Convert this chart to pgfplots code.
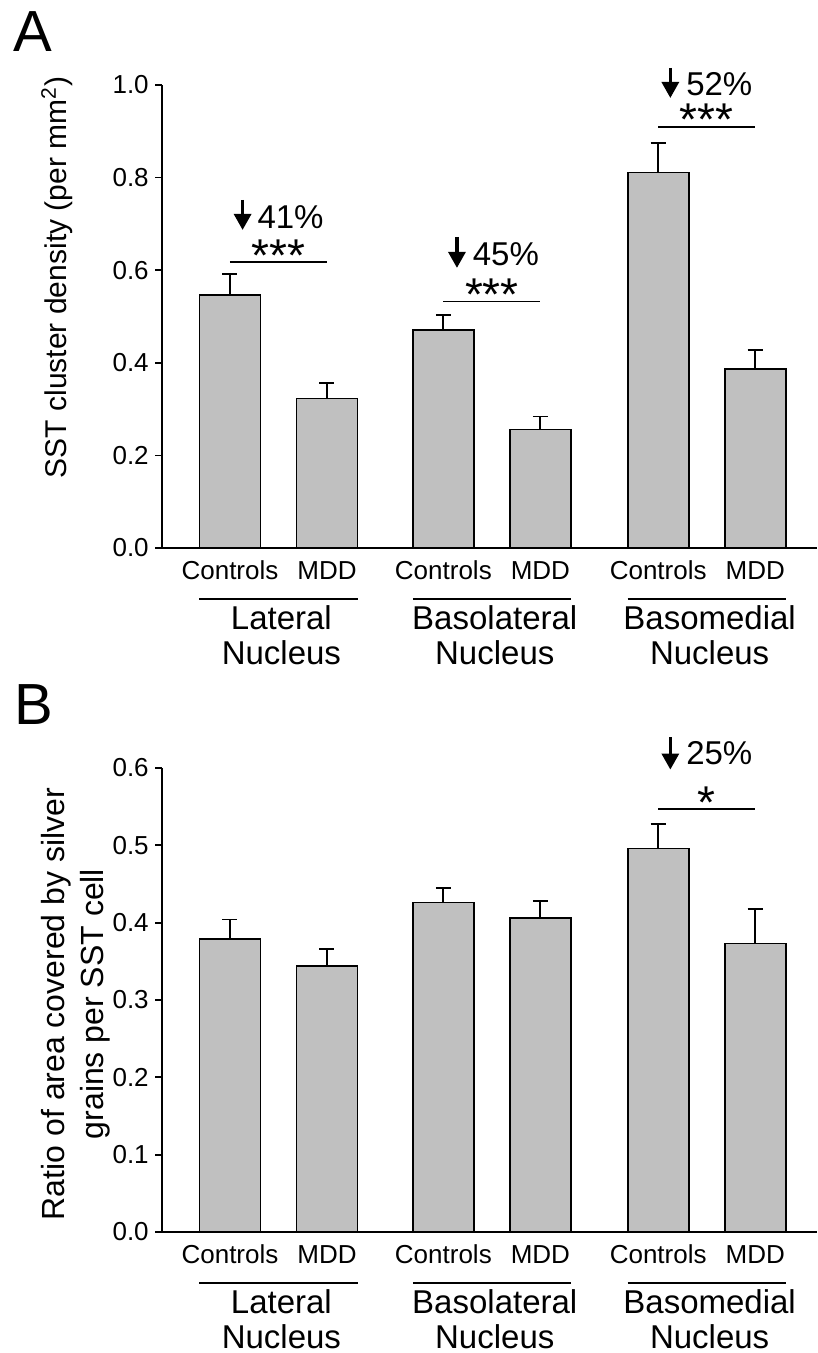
\documentclass[border=0pt]{standalone}
\usepackage{fontspec}
\setmainfont{Liberation Sans}
\usepackage{pgfplots}
\pgfplotsset{compat=1.18}
\usetikzlibrary{arrows.meta}
\definecolor{barfill}{RGB}{192,192,192}

\pgfplotstableread{
x y e
0 0.546 0.045
1 0.323 0.034
2.2 0.470 0.034
3.2 0.256 0.028
4.415 0.811 0.064
5.415 0.386 0.041
}\dataA

\pgfplotstableread{
x y e
0 0.379 0.025
1 0.344 0.022
2.2 0.426 0.019
3.2 0.4065 0.022
4.415 0.496 0.032
5.415 0.373 0.045
}\dataB

\pgfplotsset{
  panel/.style={
    scale only axis, width=327.65pt,
    xmin=-0.704, xmax=6.052, ymin=0,
    axis x line=bottom, axis y line=left,
    axis line style={-, line width=1pt, black},
    tick align=outside, major tick length=3.3pt,
    tick style={line width=0.9pt, black},
    xtick=\empty,
    yticklabel style={font=\fontsize{13}{15}\selectfont, inner sep=3pt,
      /pgf/number format/.cd, fixed, fixed zerofill, precision=1},
    /pgf/number format/assume math mode=true,
    clip=false,
    ybar, bar width=0.629,
  },
  bars/.style={fill=barfill, draw=black, line width=0.9pt,
    error bars/.cd, y dir=plus, y explicit,
    error bar style={line width=0.9pt, black},
    error mark options={rotate=90, mark size=3.75pt, line width=0.9pt, black}},
}
\tikzset{
  lab/.style={font=\fontsize{13}{15}\selectfont, anchor=base, inner sep=0pt},
  grp/.style={font=\fontsize{16.5}{18}\selectfont, anchor=base, inner sep=0pt},
  pct/.style={font=\fontsize{16.5}{18}\selectfont, anchor=base west, inner sep=0pt},
  star/.style={font=\fontsize{23}{24}\selectfont, anchor=base, inner sep=0pt},
  arr/.style={line width=1.6pt, -{Triangle[length=8pt,width=8.5pt]}},
}

% #1 controls x, #2 MDD x, #3 line left, #4 line right, #5 label x, #6 name
\newcommand{\grplab}[6]{%
  \node[lab] at ([yshift=-15.5pt]axis cs:#1,0) {Controls};
  \node[lab] at ([yshift=-15.5pt]axis cs:#2,0) {MDD};
  \draw[line width=0.8pt] ([yshift=-25.5pt]axis cs:#3,0) -- ([yshift=-25.5pt]axis cs:#4,0);
  \node[grp] at ([yshift=-40.5pt]axis cs:#5,0) {#6};
  \node[grp] at ([yshift=-58pt]axis cs:#5,0) {Nucleus};
}
\newcommand{\allgroups}{%
  \grplab{0}{1}{-0.315}{1.315}{0.53}{Lateral}
  \grplab{2.2}{3.2}{1.885}{3.515}{2.73}{Basolateral}
  \grplab{4.415}{5.415}{4.1}{5.73}{4.945}{Basomedial}
}

\begin{document}
\begin{tikzpicture}
\useasboundingbox (0,0) rectangle (409pt,-676.5pt);

\node[anchor=base west, inner sep=0pt, font=\fontsize{29}{32}\selectfont] at (6.5pt,-26pt) {A};
\node[anchor=base west, inner sep=0pt, font=\fontsize{29}{32}\selectfont] at (7pt,-362pt) {B};

\node[rotate=90, font=\fontsize{15}{18}\selectfont] at (28.5pt,-138.75pt) {SST cluster density (per mm\textsuperscript{2})};
\node[rotate=90, align=center, font=\fontsize{16}{19.5}\selectfont] at (37.75pt,-502pt) {Ratio of area covered by silver\\grains per SST cell};

% Panel A
\begin{axis}[panel, at={(80.85pt,-274pt)}, anchor=south west, height=231.5pt,
  ymax=1.0, ytick={0,0.2,0.4,0.6,0.8,1.0}]
\addplot[bars] table[x=x, y=y, y error=e] {\dataA};
\allgroups
% Lateral
\draw[line width=0.8pt] (axis cs:0,0.618) -- (axis cs:1,0.618);
\node[star] at (axis cs:0.5,0.597) {***};
\draw[arr] (axis cs:0.13,0.752) -- (axis cs:0.13,0.687);
\node[pct] at (axis cs:0.28,0.691) {41\%};
% Basolateral
\draw[line width=0.8pt] (axis cs:2.2,0.532) -- (axis cs:3.2,0.532);
\node[star] at (axis cs:2.7,0.513) {***};
\draw[arr] (axis cs:2.34,0.672) -- (axis cs:2.34,0.605);
\node[pct] at (axis cs:2.50,0.611) {45\%};
% Basomedial
\draw[line width=0.8pt] (axis cs:4.415,0.909) -- (axis cs:5.415,0.909);
\node[star] at (axis cs:4.915,0.8905) {***};
\draw[arr] (axis cs:4.54,1.037) -- (axis cs:4.54,0.972);
\node[pct] at (axis cs:4.70,0.978) {52\%};
\end{axis}

% Panel B
\begin{axis}[panel, at={(80.85pt,-616pt)}, anchor=south west, height=232pt,
  ymax=0.6, ytick={0,0.1,0.2,0.3,0.4,0.5,0.6}]
\addplot[bars] table[x=x, y=y, y error=e] {\dataB};
\allgroups
\draw[line width=0.8pt] (axis cs:4.415,0.547) -- (axis cs:5.415,0.547);
\node[star] at (axis cs:4.915,0.535) {*};
\draw[arr] (axis cs:4.54,0.6395) -- (axis cs:4.54,0.598);
\node[pct] at (axis cs:4.70,0.6045) {25\%};
\end{axis}
\end{tikzpicture}
\end{document}
